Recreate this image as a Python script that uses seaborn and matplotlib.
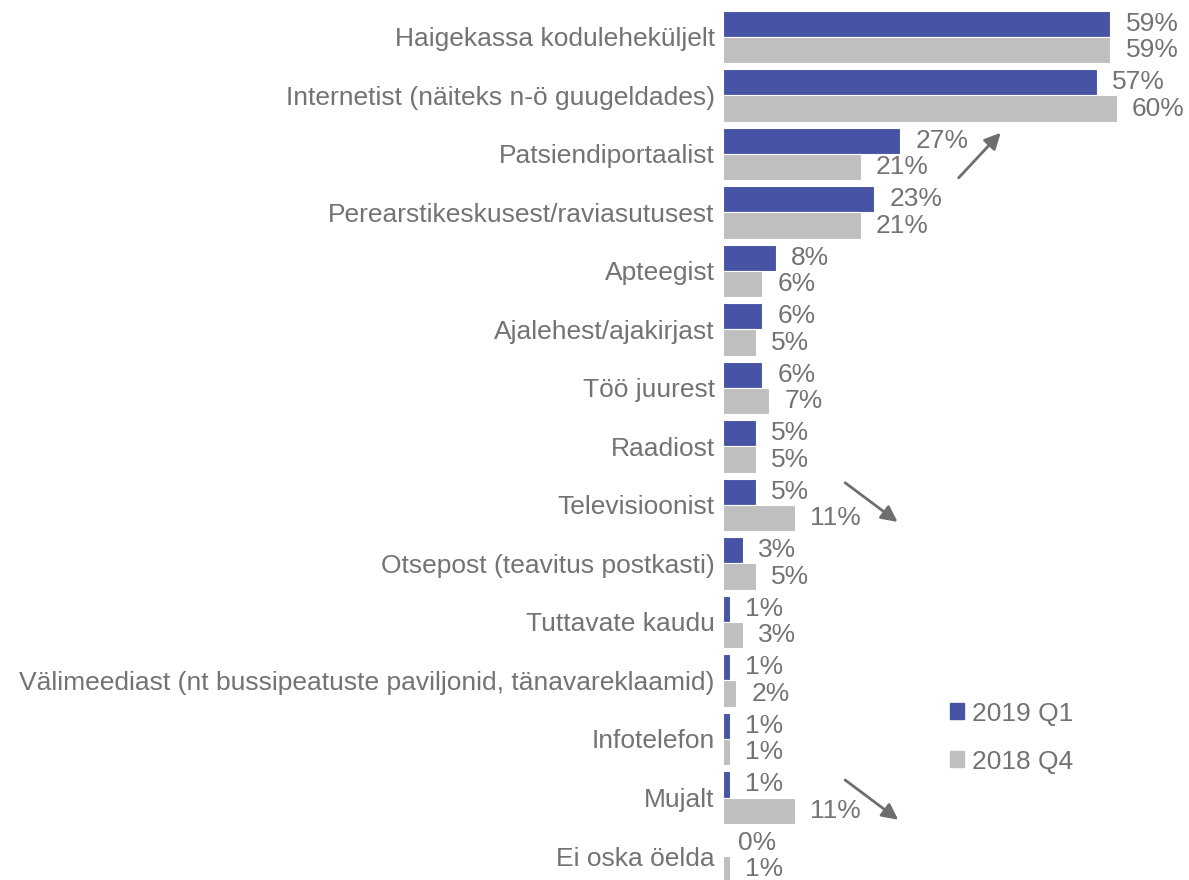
import pandas as pd
import matplotlib.pyplot as plt
import seaborn as sns

# data
categories = ["Haigekassa koduleheküljelt", "Internetist (näiteks n-ö guugeldades)",
              "Patsiendiportaalist", "Perearstikeskusest/raviasutusest", "Apteegist",
              "Ajalehest/ajakirjast", "Töö juurest", "Raadiost", "Televisioonist",
              "Otsepost (teavitus postkasti)", "Tuttavate kaudu",
              "Välimeediast (nt bussipeatuste paviljonid, tänavareklaamid)",
              "Infotelefon", "Mujalt", "Ei oska öelda"]
q1_2019 = [59, 57, 27, 23, 8, 6, 6, 5, 5, 3, 1, 1, 1, 1, 0]
q4_2018 = [59, 60, 21, 21, 6, 5, 7, 5, 11, 5, 3, 2, 1, 11, 1]
series = ["2019 Q1", "2018 Q4"]
colors = ["#4753A4", "#BFBFBF"]
# trend arrows: (x0, y0, x1, y1) in data units
arrows = [(35.9, 2.41, 42.3, 1.64), (18.6, 7.62, 26.6, 8.29), (18.6, 12.70, 26.7, 13.38)]

df = pd.DataFrame({
    "cat": categories * 2,
    "val": q1_2019 + q4_2018,
    "period": [series[0]] * len(categories) + [series[1]] * len(categories),
})

plt.rcParams['font.family'] = ['Liberation Sans', 'DejaVu Sans']
txt = "#737373"
fs = 19

fig = plt.figure(figsize=(11.89, 8.8), dpi=100)
ax = fig.add_axes([723 / 1189, 0, 1 - 723 / 1189, 1])

sns.barplot(data=df, y="cat", x="val", hue="period", orient="h", palette=colors,
            saturation=1, width=0.9, edgecolor="white", linewidth=0.8, ax=ax, legend=False)

for c in ax.containers:
    ax.bar_label(c, labels=[f"{int(v)}%" for v in c.datavalues], padding=11,
                 fontsize=fs, color=txt)

ax.set_xlim(0, 71)
ax.set_ylim(14.41, -0.63)
ax.set_xlabel("")
ax.set_ylabel("")
ax.set_xticks([])
ax.tick_params(axis="y", length=0, pad=6, labelsize=fs, labelcolor=txt)
for s in ax.spines.values():
    s.set_visible(False)

for x0, y0, x1, y1 in arrows:
    ax.annotate("", xy=(x1, y1), xytext=(x0, y0),
                arrowprops=dict(arrowstyle="-|>", color="#6E6E6E", lw=2,
                                mutation_scale=24, shrinkA=0, shrinkB=0))

handles = [plt.Rectangle((0, 0), 1, 1, color=c) for c in colors]
leg = fig.legend(handles, series, loc="upper left", bbox_to_anchor=(926 / 1189, 1 - 678 / 880),
                 frameon=False, fontsize=fs, labelspacing=0.9, handlelength=0.55,
                 handleheight=0.55, handletextpad=0.3, labelcolor=txt)

fig.savefig("out.png", dpi=100)
